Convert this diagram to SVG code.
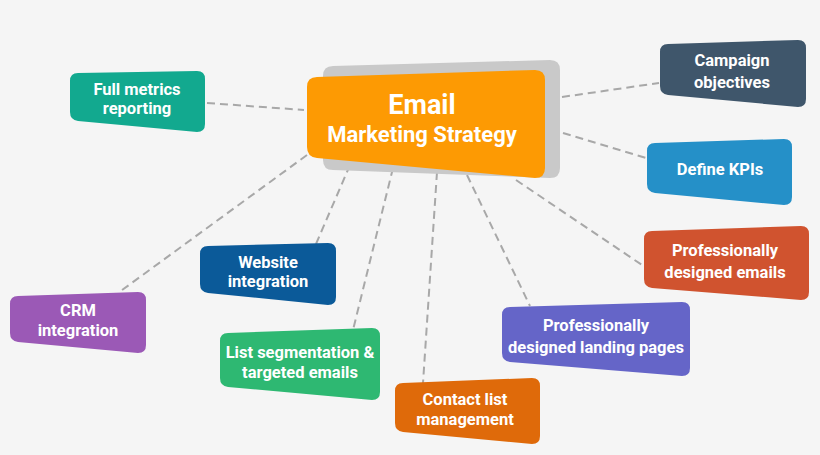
<svg xmlns="http://www.w3.org/2000/svg" width="820" height="455" viewBox="0 0 820 455">
<style>
.t{font-family:Roboto,"Liberation Sans",Arial,sans-serif;font-weight:bold;fill:#fff;text-anchor:middle;font-size:16.5px}
.c{stroke:#a8a8a8;stroke-width:2;stroke-dasharray:8 5;fill:none}
</style>
<rect x="0" y="0" width="820" height="455" fill="#f5f5f5"/>
<g id="connectors">
<line class="c" x1="207" y1="103" x2="304" y2="110"/>
<line class="c" x1="562" y1="97" x2="659" y2="83"/>
<line class="c" x1="563" y1="133" x2="646" y2="158"/>
<line class="c" x1="516" y1="180" x2="642" y2="265"/>
<line class="c" x1="467" y1="175" x2="530" y2="306"/>
<line class="c" x1="437" y1="172" x2="423" y2="383"/>
<line class="c" x1="393" y1="168" x2="353" y2="330"/>
<line class="c" x1="350" y1="165" x2="316" y2="244"/>
<line class="c" x1="307" y1="155" x2="118" y2="293"/>
</g>
<g id="center">
<path d="M333,66 L550,60 Q560,60 560,70 L560,168 Q560,178 550,178 L333,170 Q323,170 323,160 L323,76 Q323,66 333,66 Z" fill="#c9c9c9"/>
<path d="M317,77 L535,70 Q545,70 545,80 L545,168 Q545,178 535,178 L317,158 Q307,157 307,147 L307,87 Q307,77 317,77 Z" fill="#fd9a03"/>
<text class="t" x="422" y="114" style="font-size:27px">Email</text>
<text class="t" x="422" y="142" style="font-size:22px">Marketing Strategy</text>
</g>
<g id="full-metrics">
<path d="M78,73 L197,71 Q205,71 205,79 L205,124 Q205,132 197,132 L78,121 Q70,120 70,112 L70,81 Q70,73 78,73 Z" fill="#12a98f"/>
<text class="t" x="137" y="95">Full metrics</text>
<text class="t" x="137" y="114">reporting</text>
</g>
<g id="campaign">
<path d="M668,44 L798,40 Q806,40 806,48 L806,99 Q806,107 798,107 L668,95 Q660,94 660,86 L660,52 Q660,44 668,44 Z" fill="#3f566b"/>
<text class="t" x="732" y="66">Campaign</text>
<text class="t" x="732" y="88">objectives</text>
</g>
<g id="kpis">
<path d="M655,143 L784,139 Q792,139 792,147 L792,197 Q792,205 784,205 L655,193 Q647,192 647,184 L647,151 Q647,143 655,143 Z" fill="#2590c8"/>
<text class="t" x="720" y="175">Define KPIs</text>
</g>
<g id="pro-emails">
<path d="M652,231 L801,226 Q809,226 809,234 L809,292 Q809,300 801,300 L652,288 Q644,287 644,279 L644,239 Q644,231 652,231 Z" fill="#d0532f"/>
<text class="t" x="725" y="256">Professionally</text>
<text class="t" x="725" y="278">designed emails</text>
</g>
<g id="landing">
<path d="M510,307 L682,302 Q690,302 690,310 L690,368 Q690,376 682,376 L510,362 Q502,361 502,353 L502,315 Q502,307 510,307 Z" fill="#6565c8"/>
<text class="t" x="596" y="331">Professionally</text>
<text class="t" x="596" y="353">designed landing pages</text>
</g>
<g id="contact">
<path d="M403,383 L532,378 Q540,378 540,386 L540,436 Q540,444 532,444 L403,432 Q395,431 395,423 L395,391 Q395,383 403,383 Z" fill="#df6a0a"/>
<text class="t" x="465" y="405">Contact list</text>
<text class="t" x="465" y="425">management</text>
</g>
<g id="list-seg">
<path d="M228,333 L372,328 Q380,328 380,336 L380,392 Q380,400 372,400 L228,387 Q220,386 220,378 L220,341 Q220,333 228,333 Z" fill="#2eb872"/>
<text class="t" x="300" y="358">List segmentation &amp;</text>
<text class="t" x="300" y="378">targeted emails</text>
</g>
<g id="website">
<path d="M208,246 L328,243 Q336,243 336,251 L336,297 Q336,305 328,305 L208,293 Q200,292 200,284 L200,254 Q200,246 208,246 Z" fill="#0b5a99"/>
<text class="t" x="268" y="268">Website</text>
<text class="t" x="268" y="287">integration</text>
</g>
<g id="crm">
<path d="M18,296 L138,292 Q146,292 146,300 L146,345 Q146,353 138,353 L18,342 Q10,341 10,333 L10,304 Q10,296 18,296 Z" fill="#9b59b6"/>
<text class="t" x="78" y="316">CRM</text>
<text class="t" x="78" y="336">integration</text>
</g>
</svg>
